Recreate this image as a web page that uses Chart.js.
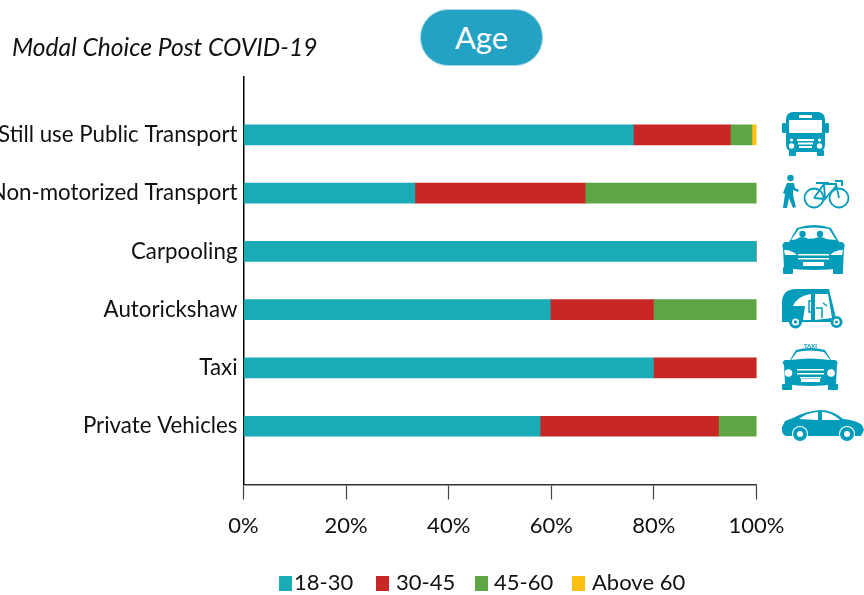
<!DOCTYPE html>
<html>
<head>
<meta charset="utf-8">
<script src="https://cdn.jsdelivr.net/npm/chart.js@4"></script>
<style>
  html, body { margin: 0; padding: 0; background: #fff; }
  #wrap { position: relative; width: 864px; height: 595px; overflow: hidden; font-family: Lato, sans-serif; }
  #myChart { position: absolute; left: 0; top: 0; }
  #pill { position: absolute; left: 420px; top: 9px; width: 121px; height: 55px; border-radius: 28px; background: #24a2c4; border: 1px solid #a9d8e6;
          color: #fff; font-size: 31px; line-height: 54px; text-align: center; }
  #icons { position: absolute; left: 0; top: 0; }
  #legend { position: absolute; top: 568px; left: 0; font-size: 22px; color: #111; }
  #legend span { position: absolute; white-space: nowrap; line-height: 28px; }
  #legend i { position: absolute; top: 8px; width: 13px; height: 15px; }
</style>
</head>
<body>
<div id="wrap">
  <canvas id="myChart" width="864" height="595"></canvas>
  <div id="pill">Age</div>
  <svg id="icons" width="864" height="595" fill="#049cbb">
    <!-- bus -->
    <rect x="786" y="112" width="39" height="40" rx="7"/>
    <rect x="782" y="123" width="4" height="10" rx="1"/><rect x="825" y="123" width="4" height="10" rx="1"/>
    <rect x="789" y="150" width="7" height="6" rx="1"/><rect x="817" y="150" width="7" height="6" rx="1"/>
    <g fill="#fff">
      <rect x="799" y="115" width="13" height="3"/>
      <rect x="789" y="120" width="33" height="13" rx="1"/>
      <circle cx="791.5" cy="140" r="1.6"/><circle cx="819.5" cy="140" r="1.6"/>
      <circle cx="791.5" cy="146" r="2.7"/><circle cx="819.5" cy="146" r="2.7"/>
      <rect x="797" y="139" width="17" height="2"/><rect x="798" y="142.500" width="15" height="2"/><rect x="799" y="146" width="13" height="2"/>
    </g>
    <!-- walker and bicycle -->
    <circle cx="790.500" cy="178" r="3.200"/>
    <path d="M787 183 L794 183 L795 188 L799 190 L798 192 L793 190 L793 195 L796 207 L793 208 L789 198 L787 208 L783 208 L785 194 L783 193 Z"/>
    <g fill="none" stroke="#049cbb" stroke-width="1.800">
      <circle cx="814" cy="198" r="9.500"/><circle cx="839" cy="198" r="9.500"/>
      <path d="M814 198 L824 184 L836 184 L839 198 M824 184 L825 199 L836 186 M814 198 L825 199"/>
      <path d="M816 183 L829 183 M835 181 L842 181 L842 186" stroke-width="2"/>
    </g>
    <!-- carpool -->
    <path d="M789 242 L797 228 Q814 222 831 228 L839 242 L842 242 Q846 244 844 248 L843 268 Q814 272 784 268 L783 248 Q781 244 785 242 Z"/>
    <rect x="783" y="267" width="10" height="7" rx="1"/><rect x="833" y="267" width="10" height="7" rx="1"/>
    <g fill="#fff">
      <path d="M791 240 L799 229 Q814 226 829 229 L836 240 Q814 237 791 240 Z"/>
      <path d="M784 250 Q792 250 797 255 L785 255 Z"/><path d="M843 250 Q835 250 830 255 L842 255 Z"/>
      <rect x="798" y="254" width="31" height="1.500"/><rect x="798" y="258" width="31" height="1.500"/>
      <rect x="803" y="262" width="21" height="4"/>
    </g>
    <circle cx="802.500" cy="234" r="3.200"/><circle cx="820" cy="234" r="3.200"/>
    <path d="M795 240 Q802 234 810 240 Z M812 240 Q820 234 828 240 Z"/>
    <!-- autorickshaw -->
    <path d="M782 322 L782 303 Q782 289 796 289 L829 289 L836 318 L836 322 Z"/>
    <g fill="#fff">
      <path d="M793 306 Q797 296 811 294 L811 320 L803 320 L805 306 Z"/>
      <path d="M815 294 L828 294 L832 318 L815 320 Z"/>
    </g>
    <g fill="none" stroke="#049cbb" stroke-width="1.500"><path d="M811 301 L809 301 L809 312 L811 312 M816 308 L822 308 L822 318 M823 303 L827 306"/></g>
    <circle cx="795.500" cy="322" r="6.500"/><circle cx="836.500" cy="322" r="6"/>
    <circle cx="795.500" cy="322" r="3.500" fill="#fff"/><circle cx="836.500" cy="322" r="3.200" fill="#fff"/>
    <circle cx="795.500" cy="322" r="1.800"/><circle cx="836.500" cy="322" r="1.600"/>
    <!-- taxi -->
    <text x="810.500" y="348" font-size="6" font-weight="700" text-anchor="middle" font-family="Lato, sans-serif">TAXI</text>
    <path d="M790 360 L796 350 Q810 346 825 350 L831 360 L835 360 Q839 362 837 365 L836 384 Q810 388 785 384 L784 365 Q781 362 785 360 Z"/>
    <rect x="782" y="384" width="10" height="6" rx="1"/><rect x="828" y="384" width="10" height="6" rx="1"/>
    <g fill="#fff">
      <path d="M791 360 L797 352 Q810 349 824 352 L830 360 Q810 357 791 360 Z"/>
      <circle cx="788.500" cy="373" r="3.800"/><circle cx="831" cy="373" r="3.800"/>
      <rect x="797" y="369" width="27" height="1.500"/><rect x="797" y="373" width="27" height="1.500"/><rect x="800" y="377" width="21" height="1.500"/>
      <rect x="801" y="379" width="19" height="3"/>
    </g>
    <!-- sedan -->
    <path d="M782 427 L785 421 L793 418 Q806 411 820 410 Q833 410 843 419 Q856 420 862 425 L864 430 L861 436 L786 436 Q781 434 782 427 Z"/>
    <g fill="#fff">
      <path d="M799 419 Q806 413 818 412 L818 420 Z"/>
      <path d="M822 412 Q831 412 840 420 L822 420 Z"/>
    </g>
    <circle cx="800" cy="434" r="8" fill="#fff"/><circle cx="847" cy="434" r="8" fill="#fff"/>
    <circle cx="800" cy="434" r="7"/><circle cx="847" cy="434" r="7"/>
    <circle cx="800" cy="434" r="3" fill="#fff"/><circle cx="847" cy="434" r="3" fill="#fff"/>
  </svg>
  <div id="legend"></div>
</div>
<script>
const categories = ['Still use Public Transport', 'Non-motorized Transport', 'Carpooling', 'Autorickshaw', 'Taxi', 'Private Vehicles'];
const age18to30 = [76, 33.4, 100, 59.8, 79.9, 57.8];
const age30to45 = [18.9, 33.2, 0, 20.1, 20.1, 34.8];
const age45to60 = [4.2, 33.4, 0, 20.1, 0, 7.4];
const ageAbove60 = [0.9, 0, 0, 0, 0, 0];
const xTicks = [0, 20, 40, 60, 80, 100];

// blank rows pad half a band above and below, the axis is longer than the bars
const pad = arr => [null, ...arr, null];

const ctx = document.getElementById('myChart').getContext('2d');

// y labels run off the left edge, so the layout starts at 0 and only the title is moved in
const titleInset = {
    id: 'titleInset',
    afterLayout(chart) { chart.titleBlock.left = 12; }
};

const myChart = new Chart(ctx, {
    type: 'bar',
    plugins: [titleInset],
    data: {
        labels: pad(categories).map(c => c === null ? '' : c),
        datasets: [
            { label: '18-30', data: pad(age18to30), backgroundColor: '#19abb6' },
            { label: '30-45', data: pad(age30to45), backgroundColor: '#c92726' },
            { label: '45-60', data: pad(age45to60), backgroundColor: '#5ea545' },
            { label: 'Above 60', data: pad(ageAbove60), backgroundColor: '#fdc010' }
        ]
    },
    options: {
        indexAxis: 'y',
        responsive: false,
        animation: false,
        barThickness: 20,
        layout: { padding: { left: 0, right: 107.5, top: 0, bottom: 0 } },
        plugins: {
            legend: { display: false },
            tooltip: { enabled: false },
            title: {
                display: true,
                text: 'Modal Choice Post COVID-19',
                align: 'start',
                color: '#111',
                font: { family: 'Lato', size: 24.6, style: 'italic', weight: 'normal' },
                padding: { top: 33, bottom: 14 }
            }
        },
        scales: {
            x: {
                stacked: true,
                min: 0,
                max: 100,
                afterBuildTicks: scale => { scale.ticks = xTicks.map(v => ({ value: v })); },
                afterFit: scale => { scale.height = 110.5; },
                border: { color: '#333', width: 1.5 },
                grid: { drawOnChartArea: false, tickLength: 15, tickColor: '#444', tickWidth: 1.2 },
                ticks: {
                    color: '#111',
                    padding: 13,
                    maxRotation: 0,
                    font: { family: 'Lato', size: 22 },
                    callback: v => v + '%'
                }
            },
            y: {
                stacked: true,
                offset: false,
                afterFit: scale => { scale.width = 243.5; },
                border: { color: '#000', width: 1.5 },
                grid: { display: false, drawTicks: false },
                ticks: {
                    autoSkip: false,
                    color: '#111',
                    padding: 6,
                    font: { family: 'Lato', size: 22.3 }
                }
            }
        }
    }
});

// legend is plain html, Chart.js leaves too wide a gap after the box
const legendSwatchX = [279, 376, 475, 572];
const legendTextX = [294, 396, 494, 592];
const legendEl = document.getElementById('legend');
myChart.data.datasets.forEach((ds, i) => {
    const box = document.createElement('i');
    box.style.left = legendSwatchX[i] + 'px';
    box.style.background = ds.backgroundColor;
    const txt = document.createElement('span');
    txt.style.left = legendTextX[i] + 'px';
    txt.textContent = ds.label;
    legendEl.appendChild(box);
    legendEl.appendChild(txt);
});
</script>
</body>
</html>
